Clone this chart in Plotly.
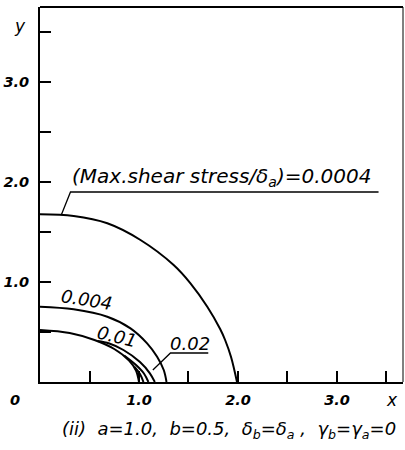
import plotly.graph_objects as go

# Contour lines of max. shear stress / delta_a (quarter plane, x >= 0, y >= 0)
c0004_x = [0.0, 0.34, 0.68, 1.015, 1.35, 1.52, 1.69, 1.82, 1.87, 1.93, 1.99]
c0004_y = [1.677, 1.66, 1.587, 1.42, 1.17, 0.987, 0.753, 0.53, 0.42, 0.25, 0.0]

c004_x = [0.0, 0.34, 0.68, 0.914, 1.082, 1.183, 1.25, 1.278]
c004_y = [0.753, 0.727, 0.653, 0.537, 0.387, 0.253, 0.12, 0.0]

c01_x = [0.58, 0.70, 0.843, 1.01, 1.11, 1.16]
c01_y = [0.41, 0.385, 0.32, 0.20, 0.087, 0.0]

c02_x = [0.85, 0.97, 1.05, 1.095]
c02_y = [0.265, 0.17, 0.085, 0.0]

inner_loop_x = [0.955, 1.01, 1.045]
inner_loop_y = [0.15, 0.08, 0.0]

# Boundary of the elliptical region (a = 1.0, b = 0.5)
boundary_x = [0.0, 0.3, 0.55, 0.75, 0.9, 0.97, 1.0]
boundary_y = [0.52, 0.49, 0.42, 0.33, 0.215, 0.115, 0.0]

# Axis ticks
tick_vals = [0.5, 1.0, 1.5, 2.0, 2.5, 3.0, 3.5]
tick_text = ["", "1.0", "", "2.0", "", "3.0", ""]

contours = [
    (c0004_x, c0004_y),
    (c004_x, c004_y),
    (c01_x, c01_y),
    (c02_x, c02_y),
    (inner_loop_x, inner_loop_y),
    (boundary_x, boundary_y),
]

fig = go.Figure()
for xs, ys in contours:
    fig.add_trace(go.Scatter(
        x=xs, y=ys, mode="lines",
        line=dict(color="black", width=2, shape="spline", smoothing=1.0),
        hoverinfo="skip", showlegend=False,
    ))

# Leader lines for the labels
leaders = [
    ([0.215, 0.308, 3.42], [1.67, 1.90, 1.90]),
    ([1.14, 1.318, 1.70], [0.12, 0.29, 0.29]),
]
for xs, ys in leaders:
    fig.add_trace(go.Scatter(
        x=xs, y=ys, mode="lines",
        line=dict(color="black", width=1.3),
        hoverinfo="skip", showlegend=False,
    ))

FAM = "DejaVu Sans"
lab_font = dict(family=FAM, size=18, color="black", style="italic")
tick_font = dict(family=FAM, size=14.5, color="black", style="italic", weight="bold")

# Labels attached to the contours (data coordinates)
annotations = [
    dict(x=1.84, y=2.05, text="(Max.shear stress/δ<sub>a</sub>)=0.0004",
         font=dict(family=FAM, size=20, color="black", style="italic")),
    dict(x=0.47, y=0.83, text="0.004", textangle=9, font=lab_font),
    dict(x=0.78, y=0.46, text="0.01", textangle=14, font=lab_font),
    dict(x=1.52, y=0.39, text="0.02", font=lab_font),
]
for a in annotations:
    a.update(xref="x", yref="y", showarrow=False, xanchor="center", yanchor="middle")

# Axis names, origin label and caption (paper coordinates)
outside = [
    dict(x=-0.055, y=0.949, text="y", font=dict(family=FAM, size=17, color="black", style="italic")),
    dict(x=0.970, y=-0.048, text="x", font=dict(family=FAM, size=17, color="black", style="italic")),
    dict(x=-0.069, y=-0.048, text="0", font=tick_font),
    dict(x=0.52, y=-0.128,
         text="(ii)  a=1.0,  b=0.5,  δ<sub>b</sub>=δ<sub>a</sub> ,  γ<sub>b</sub>=γ<sub>a</sub>=0",
         font=dict(family=FAM, size=18, color="black", style="italic")),
]
for a in outside:
    a.update(xref="paper", yref="paper", showarrow=False, xanchor="center", yanchor="middle")

fig.update_layout(
    width=405, height=450,
    margin=dict(l=40, r=2, t=7, b=68),
    paper_bgcolor="white", plot_bgcolor="white",
    annotations=annotations + outside,
    shapes=[
        dict(type="line", xref="paper", yref="paper", x0=0, x1=1, y0=1, y1=1,
             line=dict(color="black", width=2)),
        dict(type="line", xref="paper", yref="paper", x0=1, x1=1, y0=0, y1=1,
             line=dict(color="black", width=1)),
    ],
)
fig.update_xaxes(
    range=[0, 3.667], showgrid=False, zeroline=False,
    showline=True, linecolor="black", linewidth=2,
    ticks="inside", ticklen=11, tickwidth=1.5, tickcolor="black",
    tickvals=tick_vals, ticktext=tick_text, tickfont=tick_font,
    ticklabelstandoff=4,
)
fig.update_yaxes(
    range=[0, 3.75], showgrid=False, zeroline=False,
    showline=True, linecolor="black", linewidth=2,
    ticks="inside", ticklen=11, tickwidth=1.5, tickcolor="black",
    tickvals=tick_vals, ticktext=tick_text, tickfont=tick_font,
    ticklabelstandoff=6,
)

fig.write_html("out.html")
